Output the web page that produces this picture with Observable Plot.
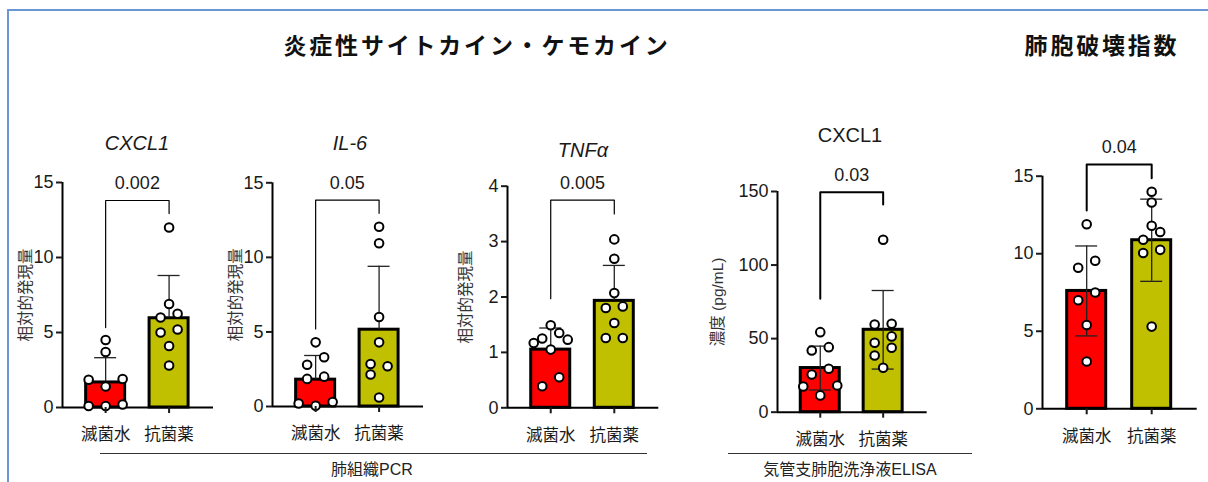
<!DOCTYPE html>
<html><head><meta charset="utf-8">
<script src="https://cdn.jsdelivr.net/npm/d3@7"></script>
<script src="https://cdn.jsdelivr.net/npm/@observablehq/plot@0.6"></script>
<style>
html,body{margin:0;padding:0;background:#fff;overflow:hidden}
#root{position:relative;width:1208px;height:482px;overflow:hidden;background:#fff;font-family:'Liberation Sans',Arial,'Noto Sans CJK JP',sans-serif;color:#1a1a1a}
.frame{position:absolute;left:7px;top:9px;width:1400px;height:600px;border-left:2px solid #6a96d6;border-top:2px solid #6a96d6}
.t{position:absolute;white-space:nowrap;transform:translate(-50%,-50%);line-height:1}
.sec{font-family:'Noto Sans CJK JP',sans-serif;font-weight:700;font-size:23px;letter-spacing:2.8px;color:#111}
.ptitle{font-size:20px;color:#1a1a1a}
.grp{font-size:16px;color:#222}
.hline{position:absolute;height:0;border-top:1.5px solid #333}
</style>
</head><body>
<div id="root"><div class="frame"></div></div>
<script>
// ---- categories ----
const groups = ["滅菌水", "抗菌薬"];
const groupColors = ["#ff0000", "#c0c000"];

// ---- individual values ----
const pcrCxcl1Sterile     = [4.5, 3.7, 1.9, 1.85, 1.4, 0.2, 0.1, 0.1];
const pcrCxcl1Antibiotic  = [12.0, 6.9, 6.25, 6.0, 5.2, 5.0, 4.1, 2.8];
const pcrIl6Sterile       = [4.3, 3.3, 2.8, 2.0, 1.85, 0.3, 0.2, 0.05];
const pcrIl6Antibiotic    = [12.05, 10.95, 6.0, 4.3, 2.85, 2.7, 2.15, 0.6];
const pcrTnfSterile       = [1.49, 1.35, 1.25, 1.23, 1.17, 1.05, 0.55, 0.39];
const pcrTnfAntibiotic    = [3.04, 2.69, 2.07, 1.83, 1.80, 1.53, 1.26, 1.26];
const elisaCxcl1Sterile   = [54.4, 44.2, 41.9, 29.5, 25.6, 18.1, 17.5, 11.4];
const elisaCxcl1Antibiotic= [117.2, 60.1, 59.6, 51.5, 47.2, 43.8, 38.5, 30.2];
const destructionSterile  = [11.9, 9.55, 9.1, 7.5, 7.0, 5.4, 3.05];
const destructionAntibiotic = [14.0, 13.3, 11.8, 11.4, 10.9, 10.25, 10.05, 5.3];

// ---- bar means and SD ----
const pcrCxcl1Mean = [1.67, 5.95];   const pcrCxcl1Sd = [1.65, 2.85];
const pcrIl6Mean   = [1.8, 5.15];    const pcrIl6Sd   = [1.62, 4.25];
const pcrTnfMean   = [1.05, 1.93];   const pcrTnfSd   = [0.39, 0.64];
const elisaCxcl1Mean = [30.0, 56.0]; const elisaCxcl1Sd = [14.9, 26.7];
const destructionMean = [7.6, 10.87]; const destructionSd = [2.9, 2.65];

// ---- significance brackets: [top, left leg end, right leg end] and p values ----
const pcrCxcl1Bracket = [13.8, 5.33, 12.93];
const pcrIl6Bracket   = [13.84, 5.2, 12.95];
const pcrTnfBracket   = [3.75, 1.97, 3.5];
const elisaCxcl1Bracket = [149.5, 77.1, 141.2];
const destructionBracket = [15.75, 12.78, 14.87];
const pValues = ["0.002", "0.05", "0.005", "0.03", "0.04"];

// ---- tick labels ----
const ticksRel15 = [0, 5, 10, 15];
const ticksRel4 = [0, 1, 2, 3, 4];
const ticksConc = [0, 50, 100, 150];

// ---- text ----
const panelTitles = ["CXCL1", "IL-6", "TNFα", "CXCL1"];
const yLabels = ["相対的発現量", "相対的発現量", "相対的発現量", "濃度 (pg/mL)", null];
const sectionTitles = ["炎症性サイトカイン・ケモカイン", "肺胞破壊指数"];
const groupLabels = ["肺組織PCR", "気管支肺胞洗浄液ELISA"];

// ---- panel definitions ----
const panels = [
  {vals:[pcrCxcl1Sterile, pcrCxcl1Antibiotic], mean:pcrCxcl1Mean, sd:pcrCxcl1Sd, br:pcrCxcl1Bracket, p:pValues[0], ticks:ticksRel15, ylabel:yLabels[0], both:false},
  {vals:[pcrIl6Sterile, pcrIl6Antibiotic], mean:pcrIl6Mean, sd:pcrIl6Sd, br:pcrIl6Bracket, p:pValues[1], ticks:ticksRel15, ylabel:yLabels[1], both:false},
  {vals:[pcrTnfSterile, pcrTnfAntibiotic], mean:pcrTnfMean, sd:pcrTnfSd, br:pcrTnfBracket, p:pValues[2], ticks:ticksRel4, ylabel:yLabels[2], both:false},
  {vals:[elisaCxcl1Sterile, elisaCxcl1Antibiotic], mean:elisaCxcl1Mean, sd:elisaCxcl1Sd, br:elisaCxcl1Bracket, p:pValues[3], ticks:ticksConc, ylabel:yLabels[3], both:true},
  {vals:[destructionSterile, destructionAntibiotic], mean:destructionMean, sd:destructionSd, br:destructionBracket, p:pValues[4], ticks:ticksRel15, ylabel:yLabels[4], both:true}
];

// ---- layout (pixels) ----
const layout = [
  {axisX:62,    xEnd:213,  yTop:182,   y0:407,   labelDx:-36, bw:1.2},
  {axisX:272,   xEnd:423,  yTop:182.3, y0:406,   labelDx:-36, bw:1.2},
  {axisX:506.7, xEnd:658,  yTop:185.7, y0:407.3, labelDx:-41, bw:1.2},
  {axisX:777.3, xEnd:927,  yTop:191,   y0:411.7, labelDx:-59, bw:2},
  {axisX:1042.3,xEnd:1197, yTop:175.7, y0:408.3, labelDx:-40, bw:2}
];
const titlePos = [[137,143],[350,143],[583,150],[850,135]];

const root = document.getElementById("root");
const XD = [-0.68, 1.70];
const SVG_TOP = 120, ML = 72, MR = 6, MB = 45;

// GraphPad-like scatter: points at similar heights share a row, spread symmetrically,
// with collision checks against points already placed.
function swarm(values, gi, pxPerY, pxPerX) {
  const s = 8.5, dRow = 10, dc = 9.5;
  const sorted = values.slice().sort((a, b) => a - b);
  const placed = [];
  const free = (px, py, extra) => placed.concat(extra).every(q => Math.hypot(q.px - px, q.py - py) >= dc - 1e-9);
  const patterns = {
    1: [[0]],
    2: [[-1, 1], [1, -1], [-2, 2], [2, -2], [-3, 3], [3, -3]],
    3: [[0, -2, 2], [0, 2, -2], [-2, 0, 2], [2, 0, -2], [-2, 2, 0], [2, -2, 0], [-1, 1, 3], [1, -1, -3]],
    4: [[-1, 1, -3, 3], [1, -1, 3, -3], [-3, -1, 1, 3]]
  };
  let i = 0;
  while (i < sorted.length) {
    const row = [sorted[i]];
    let j = i + 1;
    while (j < sorted.length && (sorted[j] - sorted[i]) * pxPerY < dRow && row.length < 4) row.push(sorted[j++]);
    let done = false;
    for (const pat of (patterns[row.length] || [])) {
      const cand = row.map((v, k) => ({v, px: pat[k] * s, py: v * pxPerY}));
      let ok = true;
      const acc = [];
      for (const c of cand) { if (!free(c.px, c.py, acc)) { ok = false; break; } acc.push(c); }
      if (ok) { placed.push(...cand); done = true; break; }
    }
    if (!done) {
      for (const v of row) {
        const py = v * pxPerY;
        for (const k of [0, -1, 1, -2, 2, -3, 3, -4, 4]) {
          if (free(k * s, py, [])) { placed.push({v, px: k * s, py}); break; }
        }
      }
    }
    i = j;
  }
  return placed.map(q => ({v: q.v, x: gi + q.px / pxPerX}));
}

panels.forEach((P, k) => {
  const L = layout[k];
  const yMax = P.ticks[P.ticks.length - 1];
  const left = L.axisX - ML;
  const width = L.xEnd - left + MR;
  const marginTop = L.yTop - SVG_TOP;
  const height = L.y0 - SVG_TOP + MB;
  const pxPerX = (L.xEnd - L.axisX) / (XD[1] - XD[0]);
  const pxPerY = (L.y0 - L.yTop) / yMax;
  const hw = 19.5 / pxPerX, cap = 11 / pxPerX;

  const bars = P.mean.map((m, i) => ({i, mean: m, sd: P.sd[i], lo: P.both ? m - P.sd[i] : m, hi: m + P.sd[i]}));
  const caps = [];
  bars.forEach(b => { caps.push({i: b.i, y: b.hi}); if (P.both) caps.push({i: b.i, y: b.lo}); });
  const dots = P.vals.flatMap((vs, i) => swarm(vs, i, pxPerY, pxPerX));
  const [bt, bl, brr] = P.br;
  const bracket = [{x: 0, y: bl}, {x: 0, y: bt}, {x: 1, y: bt}, {x: 1, y: brr}];

  const marks = [
    Plot.rectY(bars, {x1: d => d.i - hw, x2: d => d.i + hw, y1: 0, y2: "mean", fill: d => groupColors[d.i], stroke: "black", strokeWidth: 3}),
    Plot.ruleX(bars, {x: "i", y1: "lo", y2: "hi", stroke: "#222", strokeWidth: 1.3}),
    Plot.ruleY(caps, {x1: d => d.i - cap, x2: d => d.i + cap, y: "y", stroke: "#222", strokeWidth: 1.3}),
    Plot.ruleY([0], {stroke: "black", strokeWidth: 2}),
    Plot.ruleX([XD[0]], {y1: 0, y2: yMax, stroke: "black", strokeWidth: 2}),
    Plot.line(bracket, {x: "x", y: "y", stroke: "black", strokeWidth: L.bw}),
    Plot.text([P.p], {x: 0.5, y: bt, dy: -17, fontSize: 18}),
    Plot.dot(dots, {x: "x", y: "v", r: 4.3, fill: "white", stroke: "black", strokeWidth: 2}),
    Plot.axisY({ticks: P.ticks, tickFormat: d => String(d), tickSize: 6, tickPadding: 3, fontSize: 18, strokeWidth: 2, label: null}),
    Plot.axisX({ticks: [0, 1], tickFormat: i => groups[i], tickSize: 6, tickPadding: 15, fontSize: 16.5, strokeWidth: 2, label: null})
  ];
  if (P.ylabel) marks.push(Plot.text([P.ylabel], {frameAnchor: "left", textAnchor: "middle", dx: L.labelDx, rotate: -90, fontSize: 15.5, fill: "#333"}));

  const svg = Plot.plot({
    width, height,
    marginLeft: ML, marginRight: MR, marginTop, marginBottom: MB,
    x: {type: "linear", domain: XD, axis: null},
    y: {domain: [0, yMax], axis: null},
    style: {fontFamily: "'Liberation Sans', Arial, 'Noto Sans CJK JP', sans-serif", color: "#1a1a1a", background: "transparent", overflow: "visible"},
    marks
  });
  svg.style.position = "absolute";
  svg.style.left = left + "px";
  svg.style.top = SVG_TOP + "px";
  root.appendChild(svg);
});

function addText(txt, cls, x, y, extra) {
  const d = document.createElement("div");
  d.className = "t " + cls;
  d.textContent = txt;
  d.style.left = x + "px"; d.style.top = y + "px";
  if (extra) Object.assign(d.style, extra);
  root.appendChild(d);
}
panelTitles.forEach((t, i) => addText(t, "ptitle", titlePos[i][0], titlePos[i][1], {fontStyle: i < 3 ? "italic" : "normal"}));
addText(sectionTitles[0], "sec", 477, 44);
addText(sectionTitles[1], "sec", 1102, 44);

function addLine(x1, x2, y) {
  const d = document.createElement("div");
  d.className = "hline";
  d.style.left = x1 + "px"; d.style.width = (x2 - x1) + "px"; d.style.top = y + "px";
  root.appendChild(d);
}
addLine(100, 647, 453);
addLine(728, 972, 453);
addText(groupLabels[0], "grp", 372, 470);
addText(groupLabels[1], "grp", 850, 470);
</script>
</body></html>
